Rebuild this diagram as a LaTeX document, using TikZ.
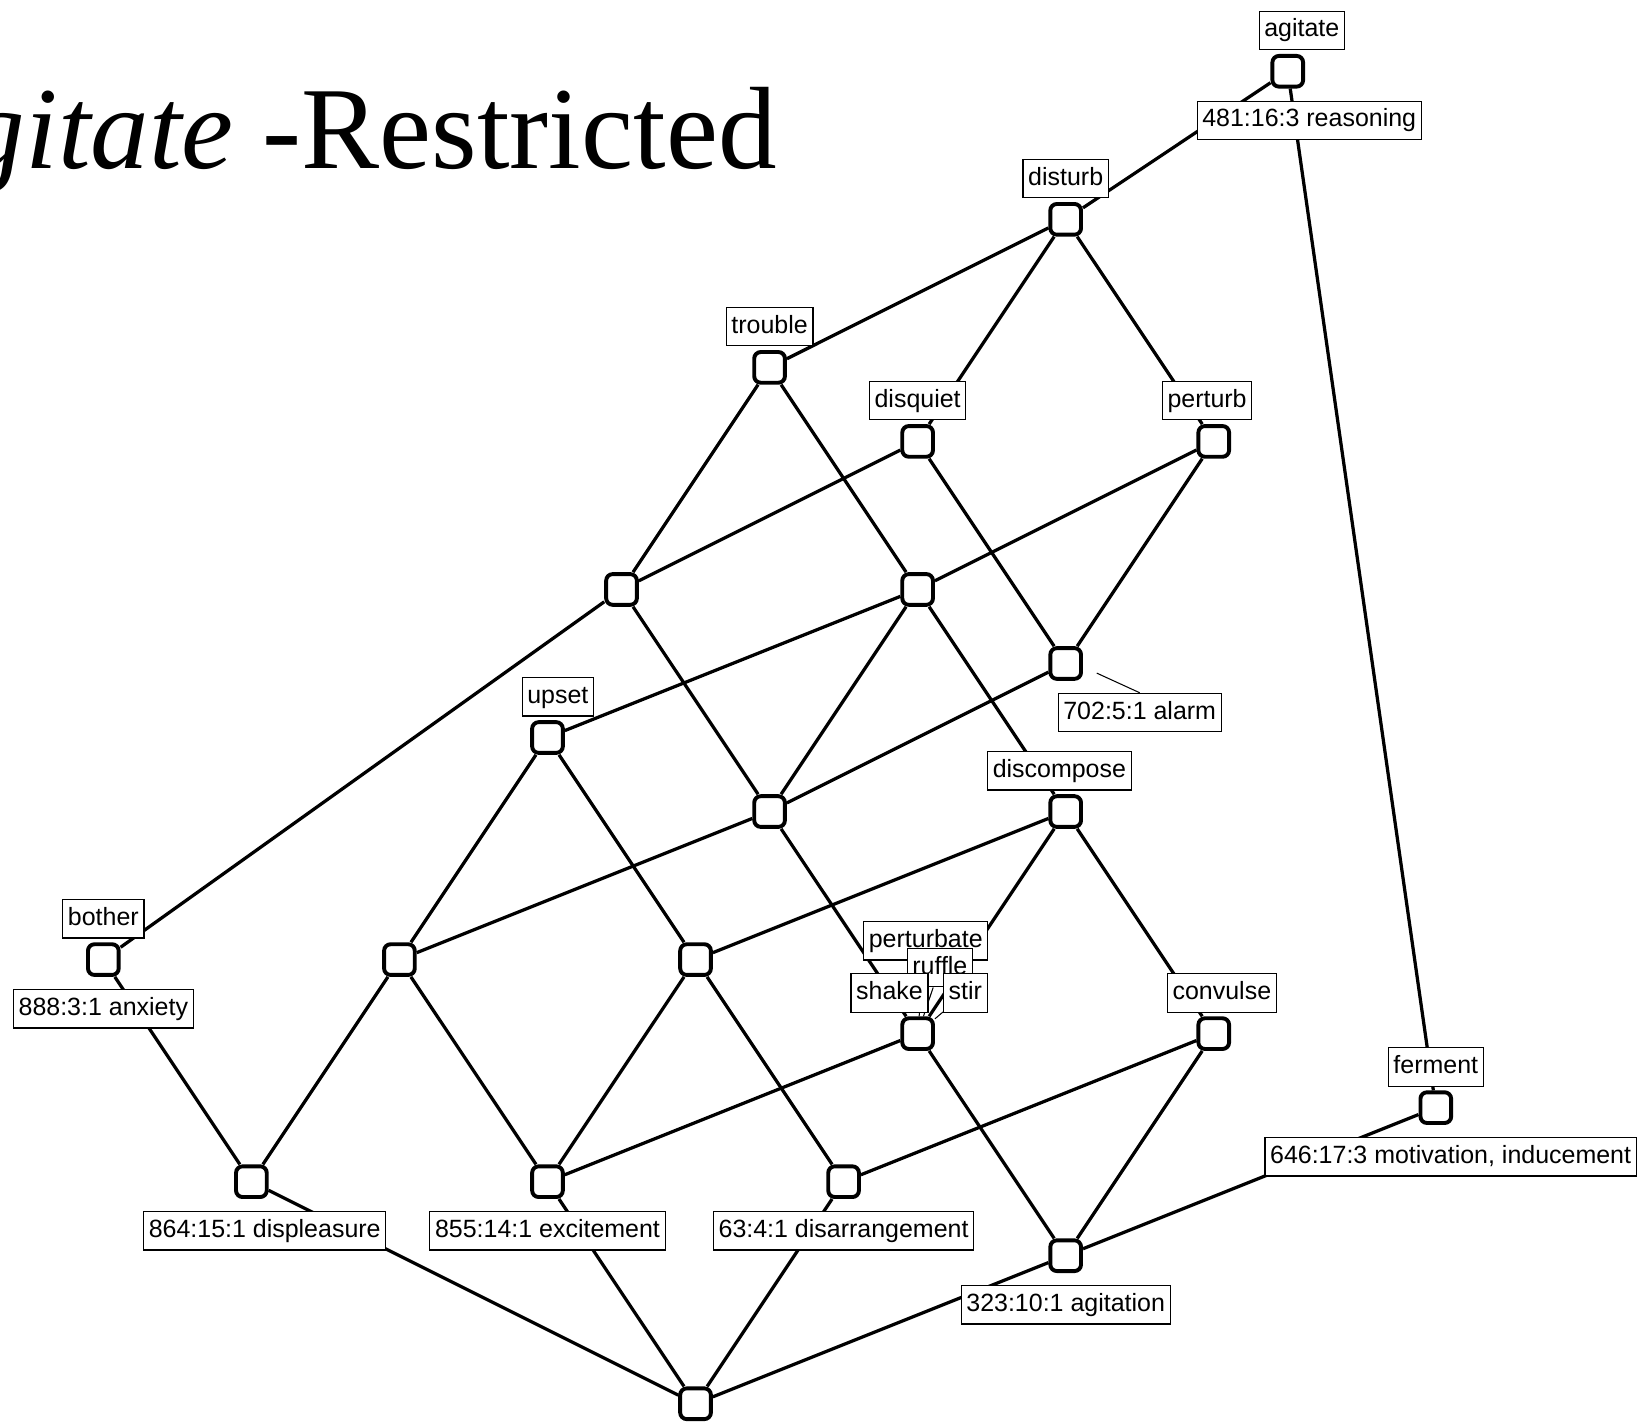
\documentclass[tikz,border=0pt]{standalone}
\usepackage{fontspec}
\setmainfont{Liberation Serif}
\setsansfont{Liberation Sans}
\usetikzlibrary{positioning,backgrounds}

\begin{document}
\begin{tikzpicture}[
        node distance=1.4pt,
        concept/.style={draw, line width=1.5pt, fill=white, rounded corners=2.5pt, minimum size=11.8pt, inner sep=0pt},
        tag/.style={draw, line width=0.45pt, fill=white, font=\sffamily\fontsize{9.6}{11}\selectfont, inner xsep=2pt, inner ysep=2.9pt, text height=7pt, text depth=2pt},
        edge/.style={line width=1.25pt},
        leader/.style={line width=0.4pt}
    ]
        \useasboundingbox (-9.396,-0.269) rectangle (12.826,18.963);

        % title, cut at the left edge
        \node[anchor=base east, inner sep=0pt, font=\rmfamily\fontsize{45}{50}\selectfont] (title) at (1.1,16.69) {\textit{Agitate} -Restricted};

        % concepts of the lattice
        \node[concept] (agitate) at (8,18) {};
        \node[concept] (disturb) at (5,16) {};
        \node[concept] (trouble) at (1,14) {};
        \node[concept] (disquiet) at (3,13) {};
        \node[concept] (perturb) at (7,13) {};
        \node[concept] (ca) at (-1,11) {};
        \node[concept] (cb) at (3,11) {};
        \node[concept] (alarm) at (5,10) {};
        \node[concept] (upset) at (-2,9) {};
        \node[concept] (cc) at (1,8) {};
        \node[concept] (discompose) at (5,8) {};
        \node[concept] (bother) at (-8,6) {};
        \node[concept] (cd) at (-4,6) {};
        \node[concept] (ce) at (0,6) {};
        \node[concept] (shake) at (3,5) {};
        \node[concept] (convulse) at (7,5) {};
        \node[concept] (ferment) at (10,4) {};
        \node[concept] (displeasure) at (-6,3) {};
        \node[concept] (excitement) at (-2,3) {};
        \node[concept] (disarrangement) at (2,3) {};
        \node[concept] (agitation) at (5,2) {};
        \node[concept] (bottom) at (0,0) {};

        % attribute labels
        \node[tag, above=of agitate, xshift=0.19cm] (l-agitate) {agitate};
        \node[tag, above=of disturb] (l-disturb) {disturb};
        \node[tag, above=of trouble] (l-trouble) {trouble};
        \node[tag, above=of disquiet] (l-disquiet) {disquiet};
        \node[tag, above=of perturb, xshift=-0.09cm] (l-perturb) {perturb};
        \node[tag, above=of upset, xshift=0.14cm] (l-upset) {upset};
        \node[tag, above=of discompose, xshift=-0.085cm] (l-discompose) {discompose};
        \node[tag, above=of bother] (l-bother) {bother};
        \node[tag, above=21.4pt of shake, xshift=0.11cm] (l-perturbate) {perturbate};
        \node[tag, above=11.1pt of shake, xshift=0.3cm] (l-ruffle) {ruffle};
        \node[tag, above=of shake, xshift=-0.38cm] (l-shake) {shake};
        \node[tag, above=of shake, xshift=0.645cm] (l-stir) {stir};
        \node[tag, above=of convulse, xshift=0.11cm] (l-convulse) {convulse};
        \node[tag, above=of ferment] (l-ferment) {ferment};

        % object labels
        \node[tag, below=4.6pt of agitate, xshift=0.29cm] (l-reasoning) {481:16:3 reasoning};
        \node[tag, below=4.6pt of alarm, xshift=1cm] (l-alarm) {702:5:1 alarm};
        \node[tag, below=4.6pt of bother] (l-anxiety) {888:3:1 anxiety};
        \node[tag, below=4.6pt of ferment, xshift=0.2cm] (l-motivation) {646:17:3 motivation, inducement};
        \node[tag, below=4.6pt of displeasure, xshift=0.18cm] (l-displeasure) {864:15:1 displeasure};
        \node[tag, below=4.6pt of excitement] (l-excitement) {855:14:1 excitement};
        \node[tag, below=4.6pt of disarrangement] (l-disarrangement) {63:4:1 disarrangement};
        \node[tag, below=4.6pt of agitation] (l-agitation) {323:10:1 agitation};
        \coordinate (alarm-tip) at (5.42,9.87);

        % lines of the lattice, behind the labels
        \begin{scope}[on background layer]
        \draw[edge] (agitate) -- (disturb);
        \draw[edge] (agitate) -- (ferment);
        \draw[edge] (disturb) -- (trouble);
        \draw[edge] (disturb) -- (disquiet);
        \draw[edge] (disturb) -- (perturb);
        \draw[edge] (trouble) -- (ca);
        \draw[edge] (trouble) -- (cb);
        \draw[edge] (disquiet) -- (ca);
        \draw[edge] (disquiet) -- (alarm);
        \draw[edge] (perturb) -- (cb);
        \draw[edge] (perturb) -- (alarm);
        \draw[edge] (ca) -- (bother);
        \draw[edge] (ca) -- (cc);
        \draw[edge] (cb) -- (upset);
        \draw[edge] (cb) -- (cc);
        \draw[edge] (cb) -- (discompose);
        \draw[edge] (alarm) -- (cc);
        \draw[edge] (upset) -- (cd);
        \draw[edge] (upset) -- (ce);
        \draw[edge] (cc) -- (cd);
        \draw[edge] (cc) -- (shake);
        \draw[edge] (discompose) -- (ce);
        \draw[edge] (discompose) -- (shake);
        \draw[edge] (discompose) -- (convulse);
        \draw[edge] (bother) -- (displeasure);
        \draw[edge] (cd) -- (displeasure);
        \draw[edge] (cd) -- (excitement);
        \draw[edge] (ce) -- (excitement);
        \draw[edge] (ce) -- (disarrangement);
        \draw[edge] (shake) -- (excitement);
        \draw[edge] (shake) -- (agitation);
        \draw[edge] (convulse) -- (disarrangement);
        \draw[edge] (convulse) -- (agitation);
        \draw[edge] (ferment) -- (agitation);
        \draw[edge] (displeasure) -- (bottom);
        \draw[edge] (excitement) -- (bottom);
        \draw[edge] (disarrangement) -- (bottom);
        \draw[edge] (agitation) -- (bottom);

        % thin label leaders
        \draw[leader] (alarm-tip) -- (l-alarm.north);
        \draw[leader] (shake) -- (l-perturbate);
        \draw[leader] (shake) -- (l-ruffle);
        \draw[leader] (shake) -- (l-shake);
        \draw[leader] (shake) -- (l-stir);
        \end{scope}
    \end{tikzpicture}
\end{document}
